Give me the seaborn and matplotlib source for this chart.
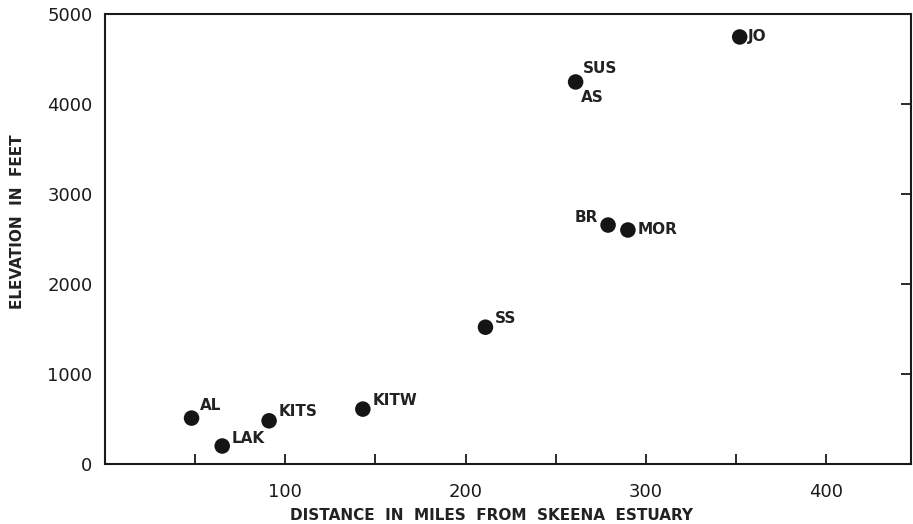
import matplotlib
matplotlib.use("Agg")
import matplotlib.pyplot as plt
import seaborn as sns
import pandas as pd

sites = ["AL", "LAK", "KITS", "KITW", "SS", "AS", "BR", "MOR", "JO"]
distance = [48, 65, 91, 143, 211, 261, 279, 290, 352]
elevation = [510, 200, 480, 610, 1520, 4245, 2655, 2600, 4745]

df = pd.DataFrame({"site": sites, "distance": distance, "elevation": elevation})

sns.set_theme(style="white")
plt.rcParams["font.family"] = ["DejaVu Sans"]

fig = plt.figure(figsize=(9.13, 5.24), dpi=100)
ax = fig.add_axes([105/913, 60/524, (911-105)/913, 450/524])

sns.scatterplot(data=df, x="distance", y="elevation", ax=ax, color="#151515",
                s=125, edgecolor="none", legend=False)

labels = {
    "AL": ("AL", 6, 4, "left", "bottom"),
    "LAK": ("LAK", 7, 0, "left", "bottom"),
    "KITS": ("KITS", 7, 1, "left", "bottom"),
    "KITW": ("KITW", 7, 1, "left", "bottom"),
    "SS": ("SS", 7, 1, "left", "bottom"),
    "BR": ("BR", -7, 0, "right", "bottom"),
    "MOR": ("MOR", 7, 0, "left", "center"),
    "JO": ("JO", 6, 0, "left", "center"),
}
for s, x, y in zip(sites, distance, elevation):
    if s == "AS":
        ax.annotate("SUS", (x, y), xytext=(5, 4), textcoords="offset points",
                    ha="left", va="bottom", fontsize=11, fontweight="bold", color="#222222")
        ax.annotate("AS", (x, y), xytext=(4, -6), textcoords="offset points",
                    ha="left", va="top", fontsize=11, fontweight="bold", color="#222222")
    else:
        t, dx, dy, ha, va = labels[s]
        ax.annotate(t, (x, y), xytext=(dx, dy), textcoords="offset points",
                    ha=ha, va=va, fontsize=11, fontweight="bold", color="#222222")

ax.set_xlim(0, 447)
ax.set_ylim(0, 5000)
ax.set_xticks([50, 100, 150, 200, 250, 300, 350, 400])
ax.set_xticklabels(["", "100", "", "200", "", "300", "", "400"])
ax.set_yticks([0, 1000, 2000, 3000, 4000, 5000])
ax.set_yticklabels(["0", "1000", "2000", "3000", "4000", "5000"])
ax.tick_params(axis="both", direction="in", length=7, width=1.3, colors="#1a1a1a",
               labelsize=13, pad=9)
ax.tick_params(axis="x", pad=14)
ax.tick_params(axis="y", right=True)
ax.tick_params(axis="x", bottom=True)
for lab in ax.get_xticklabels() + ax.get_yticklabels():
    lab.set_fontweight("normal")
for sp in ax.spines.values():
    sp.set_visible(True)
    sp.set_color("#1a1a1a")
    sp.set_linewidth(1.5)

ax.set_xlabel("DISTANCE  IN  MILES  FROM  SKEENA  ESTUARY", fontsize=11,
              fontweight="bold", color="#222222")
ax.set_ylabel("ELEVATION  IN  FEET", fontsize=11, fontweight="bold",
              color="#222222")
ax.xaxis.set_label_coords((491 - 105) / (911 - 105), -(508 - 464) / 450)
ax.yaxis.set_label_coords(-(105 - 25) / (911 - 105), (464 - 222) / 450)

fig.savefig("out.png", dpi=100)
